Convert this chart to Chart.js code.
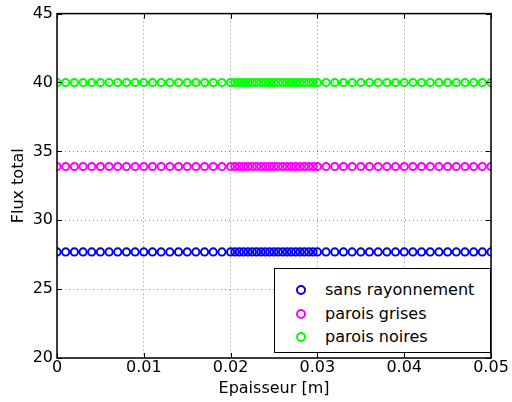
<!DOCTYPE html>
<html>
<head>
<meta charset="utf-8">
<script src="https://cdn.jsdelivr.net/npm/chart.js@4"></script>
<style>
  body { margin: 0; background: #fff; }
  #wrap { position: relative; width: 512px; height: 402px; }
  #legend {
    position: absolute; left: 274px; top: 268px; width: 215px; height: 83px;
    border: 1px solid #000; background: #fff;
    font-family: "DejaVu Sans", sans-serif; font-size: 16px; color: #000;
  }
  #legend .row { position: absolute; left: 0; height: 20px; line-height: 20px; }
  #legend .mk {
    position: absolute; left: 21px; top: 5px; width: 6px; height: 6px;
    border-radius: 50%; border: 2px solid;
  }
  #legend .tx { position: absolute; left: 50px; top: 0; white-space: nowrap; }
</style>
</head>
<body>
<div id="wrap">
  <canvas id="chart" width="512" height="402"></canvas>
  <div id="legend"></div>
</div>
<script>
// epaisseur (m)
const thickness = [
  0, 0.001, 0.002, 0.003, 0.004, 0.005, 0.006, 0.007, 0.008, 0.009,
  0.01, 0.011, 0.012, 0.013, 0.014, 0.015, 0.016, 0.017, 0.018, 0.019,
  0.02, 0.0205, 0.021, 0.0215, 0.022, 0.0225, 0.023, 0.0235, 0.024, 0.0245,
  0.025, 0.0255, 0.026, 0.0265, 0.027, 0.0275, 0.028, 0.0285, 0.029, 0.0295,
  0.03, 0.031, 0.032, 0.033, 0.034, 0.035, 0.036, 0.037, 0.038, 0.039,
  0.04, 0.041, 0.042, 0.043, 0.044, 0.045, 0.046, 0.047, 0.048, 0.049,
  0.05
];

const sansRayonnement = [
  27.7, 27.7, 27.7, 27.7, 27.7, 27.7, 27.7, 27.7, 27.7, 27.7,
  27.7, 27.7, 27.7, 27.7, 27.7, 27.7, 27.7, 27.7, 27.7, 27.7,
  27.7, 27.7, 27.7, 27.7, 27.7, 27.7, 27.7, 27.7, 27.7, 27.7,
  27.7, 27.7, 27.7, 27.7, 27.7, 27.7, 27.7, 27.7, 27.7, 27.7,
  27.7, 27.7, 27.7, 27.7, 27.7, 27.7, 27.7, 27.7, 27.7, 27.7,
  27.7, 27.7, 27.7, 27.7, 27.7, 27.7, 27.7, 27.7, 27.7, 27.7,
  27.7
];

const paroisGrises = [
  33.9, 33.9, 33.9, 33.9, 33.9, 33.9, 33.9, 33.9, 33.9, 33.9,
  33.9, 33.9, 33.9, 33.9, 33.9, 33.9, 33.9, 33.9, 33.9, 33.9,
  33.9, 33.9, 33.9, 33.9, 33.9, 33.9, 33.9, 33.9, 33.9, 33.9,
  33.9, 33.9, 33.9, 33.9, 33.9, 33.9, 33.9, 33.9, 33.9, 33.9,
  33.9, 33.9, 33.9, 33.9, 33.9, 33.9, 33.9, 33.9, 33.9, 33.9,
  33.9, 33.9, 33.9, 33.9, 33.9, 33.9, 33.9, 33.9, 33.9, 33.9,
  33.9
];

const paroisNoires = [
  40.0, 40.0, 40.0, 40.0, 40.0, 40.0, 40.0, 40.0, 40.0, 40.0,
  40.0, 40.0, 40.0, 40.0, 40.0, 40.0, 40.0, 40.0, 40.0, 40.0,
  40.0, 40.0, 40.0, 40.0, 40.0, 40.0, 40.0, 40.0, 40.0, 40.0,
  40.0, 40.0, 40.0, 40.0, 40.0, 40.0, 40.0, 40.0, 40.0, 40.0,
  40.0, 40.0, 40.0, 40.0, 40.0, 40.0, 40.0, 40.0, 40.0, 40.0,
  40.0, 40.0, 40.0, 40.0, 40.0, 40.0, 40.0, 40.0, 40.0, 40.0,
  40.0
];

const seriesNames = ["sans rayonnement", "parois grises", "parois noires"];
const seriesColors = ["#0000ff", "#ff00ff", "#00ff00"];
const xTicks = [0, 0.01, 0.02, 0.03, 0.04, 0.05];
const yTicks = [20, 25, 30, 35, 40, 45];

function toPoints(ys) {
  return ys.map((y, i) => ({ x: thickness[i], y: y }));
}

const seriesValues = [sansRayonnement, paroisGrises, paroisNoires];
const datasets = seriesValues.map((ys, i) => ({
  label: seriesNames[i],
  data: toPoints(ys),
  showLine: false,
  pointStyle: "circle",
  pointRadius: 3.6,
  pointBorderWidth: 2,
  pointBorderColor: seriesColors[i],
  pointBackgroundColor: "rgba(0,0,0,0)",
  borderColor: seriesColors[i],
}));

// frame and inward ticks, matlab style
const framePlugin = {
  id: "frame",
  afterDraw(chart) {
    const { ctx, chartArea: a, scales } = chart;
    ctx.save();
    ctx.strokeStyle = "#000";
    ctx.lineWidth = 1;
    ctx.beginPath();
    xTicks.forEach((v) => {
      const px = Math.round(scales.x.getPixelForValue(v)) + 0.5;
      ctx.moveTo(px, a.bottom); ctx.lineTo(px, a.bottom - 5);
      ctx.moveTo(px, a.top); ctx.lineTo(px, a.top + 5);
    });
    yTicks.forEach((v) => {
      const py = Math.round(scales.y.getPixelForValue(v)) + 0.5;
      ctx.moveTo(a.left, py); ctx.lineTo(a.left + 5, py);
      ctx.moveTo(a.right, py); ctx.lineTo(a.right - 5, py);
    });
    ctx.stroke();
    ctx.lineWidth = 1.5;
    ctx.strokeRect(a.left, a.top, a.right - a.left, a.bottom - a.top);
    ctx.restore();
  },
};

const font = { family: "'DejaVu Sans', sans-serif", size: 16 };

new Chart(document.getElementById("chart"), {
  type: "scatter",
  data: { datasets: datasets },
  options: {
    responsive: false,
    animation: false,
    layout: { padding: { top: 13, right: 21, left: 0, bottom: 0 } },
    plugins: { legend: { display: false }, tooltip: { enabled: false } },
    scales: {
      x: {
        type: "linear",
        min: 0,
        max: 0.05,
        afterBuildTicks: (s) => { s.ticks = xTicks.map((v) => ({ value: v })); },
        afterFit: (s) => { s.height = 44; },
        ticks: {
          color: "#000",
          font: font,
          padding: 0,
          maxRotation: 0,
          callback: (v) => String(parseFloat(v.toFixed(3))),
        },
        grid: { color: "#888", drawTicks: false, tickLength: 0 },
        border: { display: false, dash: [1, 3] },
        title: { display: true, text: "Epaisseur [m]", color: "#000", font: font, padding: { top: 0, bottom: 4 } },
      },
      y: {
        type: "linear",
        min: 20,
        max: 45,
        afterBuildTicks: (s) => { s.ticks = yTicks.map((v) => ({ value: v })); },
        afterFit: (s) => { s.width = 57; },
        ticks: { color: "#000", font: font, padding: 4 },
        grid: { color: "#888", drawTicks: false, tickLength: 0 },
        border: { display: false, dash: [1, 3] },
        title: { display: true, text: "Flux total", color: "#000", font: font, padding: { top: 9, bottom: 0 } },
      },
    },
  },
  plugins: [framePlugin],
});

// legend box inside the axes
const legendBox = document.getElementById("legend");
seriesNames.forEach((name, i) => {
  const row = document.createElement("div");
  row.className = "row";
  row.style.top = (11 + i * 23.5) + "px";
  const mk = document.createElement("span");
  mk.className = "mk";
  mk.style.borderColor = seriesColors[i];
  const tx = document.createElement("span");
  tx.className = "tx";
  tx.textContent = name;
  row.appendChild(mk);
  row.appendChild(tx);
  legendBox.appendChild(row);
});
</script>
</body>
</html>
